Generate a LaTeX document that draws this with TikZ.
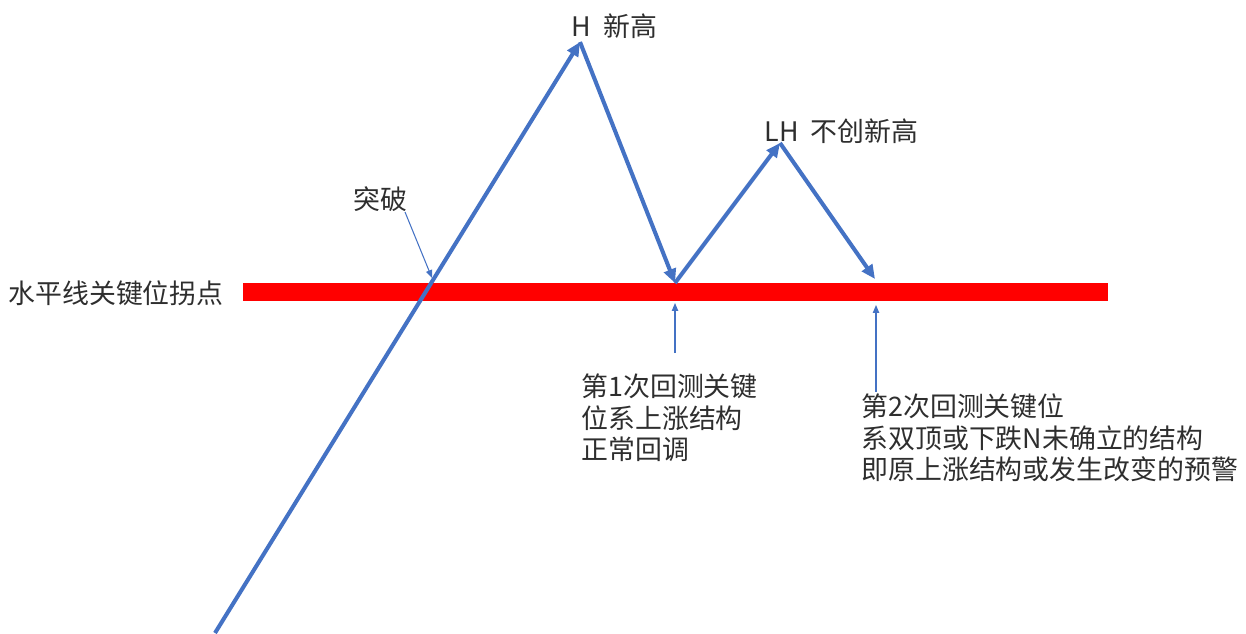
\documentclass[tikz,border=0pt]{standalone}
\usepackage{fontspec}
\setmainfont{Noto Sans CJK SC}
\usepackage{xcolor}
\usetikzlibrary{arrows.meta}
\definecolor{lineblue}{RGB}{68,114,196}
\definecolor{keyred}{RGB}{255,0,0}

\begin{document}
\begin{tikzpicture}[x=0.02cm, y=-0.02cm, semithick]
    \tikzstyle{txt}=[font=\fontsize{15.3pt}{18.1pt}\selectfont, inner sep=0pt, text=black!82, align=left]
    \tikzstyle{move}=[draw=lineblue, line width=2.3pt, -{Triangle[length=8pt,width=7pt]}]
    \tikzstyle{pointer}=[draw=lineblue, line width=0.6pt, -{Triangle[length=4.5pt,width=3.6pt]}]
\useasboundingbox (0,0) rectangle (1246,633);
% key level
\coordinate (keyL) at (243,292);
\coordinate (keyR) at (1108,292);
\draw[keyred, line width=9.8pt] (keyL) -- (keyR);
\node[txt, anchor=west] (keylabel) at (8,293) {水平线关键位拐点};
% price path
\coordinate (start) at (215,633);
\coordinate (H) at (580,42);
\coordinate (low1) at (675,283);
\coordinate (LH) at (780,143);
\coordinate (low2) at (875,279);
\draw[move] (start) -- (H);
\draw[move] (H) -- (low1);
\draw[move] (low1) -- (LH);
\draw[move] (LH) -- (low2);
\node[txt, anchor=west] (Hlabel) at (571,26) {H\ \ 新高};
\node[txt, anchor=west] (LHlabel) at (764,131) {LH\ \ 不创新高};
% breakout
\node[txt, anchor=west] (break) at (353,199) {突破};
\coordinate (breakfrom) at (405,212);
\coordinate (breakto) at (432,278);
\draw[pointer] (breakfrom) -- (breakto);
% retests
\coordinate (test1from) at (675,353);
\coordinate (test1to) at (675,303);
\coordinate (test2from) at (876,392);
\coordinate (test2to) at (876,305);
\draw[pointer] (test1from) -- (test1to);
\draw[pointer] (test2from) -- (test2to);
\node[txt, anchor=north west] (test1) at (581,373) {第1次回测关键\\位系上涨结构\\正常回调};
\node[txt, anchor=north west] (test2) at (861,393) {第2次回测关键位\\系双顶或下跌N未确立的结构\\即原上涨结构或发生改变的预警};
\end{tikzpicture}
\end{document}
